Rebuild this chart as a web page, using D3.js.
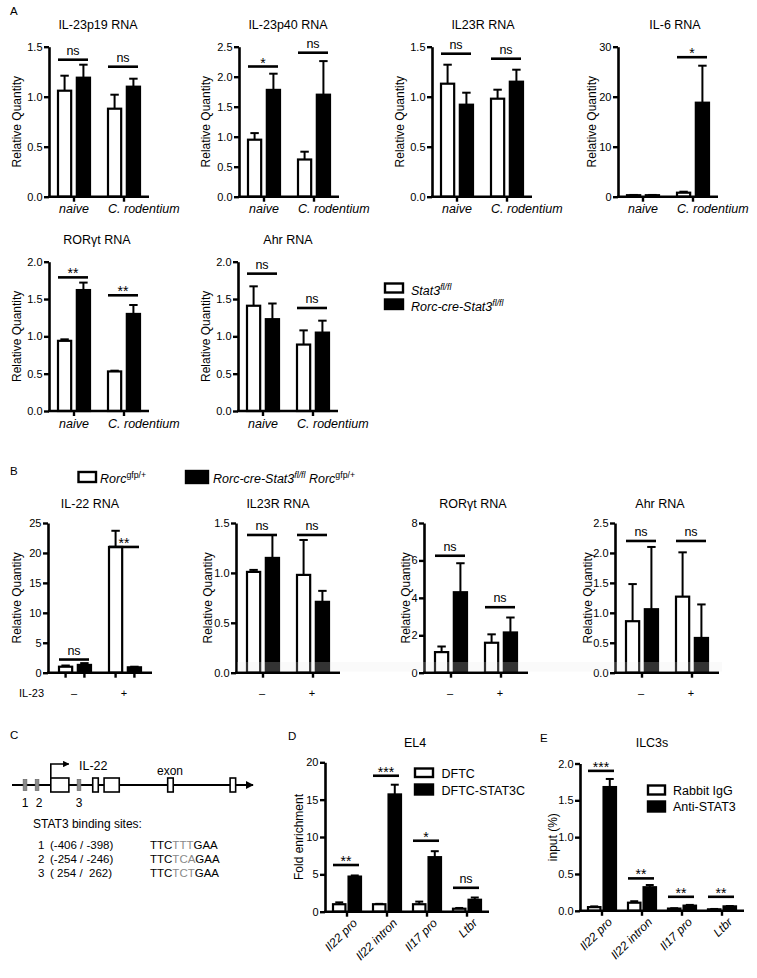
<!DOCTYPE html>
<html><head><meta charset="utf-8">
<script src="https://cdn.jsdelivr.net/npm/d3@7/dist/d3.min.js"></script>
<style>
html,body{margin:0;padding:0;background:#fff;}
svg{display:block;font-family:'Liberation Sans',Arial,Helvetica,sans-serif;}
</style></head><body>
<svg id="fig" width="757" height="978"></svg>
<script>
// ================= DATA =================
const groupsA = ["naive", "C. rodentium"];
const seriesA = ["Stat3 fl/fl", "Rorc-cre-Stat3 fl/fl"];
const groupsB = ["\u2013", "+"];
const seriesB = ["Rorc gfp/+", "Rorc-cre-Stat3 fl/fl Rorc gfp/+"];
const groupsChip = ["Il22 pro", "Il22 intron", "Il17 pro", "Ltbr"];
const seriesD = ["DFTC", "DFTC-STAT3C"];
const seriesE = ["Rabbit IgG", "Anti-STAT3"];

// order of values: group1-series1, group1-series2, group2-series1, group2-series2 ...
// Panel A
const p19Mean = [1.06, 1.19, 0.88, 1.10];
const p19Top  = [1.21, 1.32, 1.02, 1.18];
const p19Sig  = [["ns", 1.37], ["ns", 1.30]];

const p40Mean = [0.95, 1.78, 0.62, 1.70];
const p40Top  = [1.06, 2.05, 0.75, 2.26];
const p40Sig  = [["*", 2.17], ["ns", 2.40]];

const il23rAMean = [1.13, 0.92, 0.98, 1.15];
const il23rATop  = [1.32, 1.04, 1.07, 1.27];
const il23rASig  = [["ns", 1.43], ["ns", 1.38]];

const il6Mean = [0.3, 0.3, 0.8, 18.8];
const il6Top  = [0.35, 0.35, 1.0, 26.2];
const il6Sig  = [null, ["*", 27.9]];

const rorgtAMean = [0.94, 1.62, 0.53, 1.30];
const rorgtATop  = [0.96, 1.72, 0.54, 1.42];
const rorgtASig  = [["**", 1.79], ["**", 1.55]];

const ahrAMean = [1.41, 1.23, 0.89, 1.05];
const ahrATop  = [1.67, 1.44, 1.08, 1.21];
const ahrASig  = [["ns", 1.84], ["ns", 1.38]];

// Panel B
const il22BMean = [1.0, 1.3, 21.0, 0.9];
const il22BTop  = [1.2, 1.6, 23.7, 1.0];
const il22BSig  = [["ns", 2.2], ["**", 21.0]];

const il23rBMean = [1.01, 1.15, 0.98, 0.71];
const il23rBTop  = [1.03, 1.38, 1.33, 0.82];
const il23rBSig  = [["ns", 1.38], ["ns", 1.38]];

const rorgtBMean = [1.1, 4.3, 1.6, 2.15];
const rorgtBTop  = [1.4, 5.85, 2.05, 2.95];
const rorgtBSig  = [["ns", 6.25], ["ns", 3.5]];

const ahrBMean = [0.86, 1.06, 1.27, 0.58];
const ahrBTop  = [1.48, 2.10, 2.01, 1.14];
const ahrBSig  = [["ns", 2.2], ["ns", 2.2]];

// Panel D (EL4 ChIP)
const el4Mean = [1.0, 4.7, 1.0, 15.7, 1.0, 7.3, 0.4, 1.6];
const el4Top  = [1.25, 4.85, 1.05, 17.0, 1.35, 8.1, 0.5, 1.9];
const el4Sig  = [["**", 6.25], ["***", 18.2], ["*", 9.5], ["ns", 3.2]];

// Panel E (ILC3s ChIP)
const ilc3Mean = [0.05, 1.68, 0.11, 0.32, 0.03, 0.07, 0.02, 0.06];
const ilc3Top  = [0.06, 1.79, 0.13, 0.35, 0.035, 0.08, 0.025, 0.065];
const ilc3Sig  = [["***", 1.9], ["**", 0.44], ["**", 0.19], ["**", 0.19]];

// tick values
const ticks15 = [0, 0.5, 1.0, 1.5];
const ticks20 = [0, 0.5, 1.0, 1.5, 2.0];
const ticks25 = [0, 0.5, 1.0, 1.5, 2.0, 2.5];
const ticksIl6 = [0, 10, 20, 30];
const ticksIl22 = [0, 5, 10, 15, 20, 25];
const ticksRorgtB = [0, 2, 4, 6, 8];
const ticksEl4 = [0, 5, 10, 15, 20];

// Panel C schematic (gene coordinates in schematic units 0..1000)
const exonUnits = [[161, 236], [335, 358], [382, 445], [646, 669], [905, 928]];
const siteUnits = [54, 104, 278];
const siteNames = ["1", "2", "3"];
const siteRanges = ["(-406 / -398)", "(-254 / -246)", "( 254 /  262)"];
const siteSeqs = [["TTC", "TTT", "GAA"], ["TTC", "TCA", "GAA"], ["TTC", "TCT", "GAA"]];

// ================= DRAWING =================
const svg = d3.select("#fig");
const f1 = d3.format(".1f");
const f0 = d3.format("d");

function addText(x, y, txt, opt) {
  opt = opt || {};
  return svg.append("text").attr("x", x).attr("y", y).text(txt)
    .attr("font-size", opt.size || 12).attr("text-anchor", opt.anchor || "start")
    .attr("font-style", opt.italic ? "italic" : null).attr("fill", opt.fill || "#000");
}

function drawBarChart(c) {
  const ns = c.series.length;
  const y = d3.scaleLinear().domain([0, c.yMax]).range([c.yZero, c.yTop]);
  const x0 = d3.scaleBand().domain(c.groups).range([c.ax, c.axEnd]).paddingInner(c.pi).paddingOuter(c.po);
  const x1 = d3.scaleBand().domain(c.series).range([0, x0.bandwidth()]).paddingInner(c.bpi);
  const bw = x1.bandwidth();
  const rows = c.mean.map((v, i) => ({grp: c.groups[Math.floor(i / ns)], ser: c.series[i % ns], k: i % ns, v: v, t: c.top[i]}));
  const cx = d => x0(d.grp) + x1(d.ser) + bw / 2;
  const g = svg.append("g");

  g.selectAll("line.err").data(rows).join("line").attr("class", "err")
    .attr("x1", cx).attr("x2", cx).attr("y1", d => y(d.v)).attr("y2", d => y(d.t))
    .attr("stroke", "#000").attr("stroke-width", 2);
  g.selectAll("line.cap").data(rows).join("line").attr("class", "cap")
    .attr("x1", d => cx(d) - bw * 0.32).attr("x2", d => cx(d) + bw * 0.32)
    .attr("y1", d => y(d.t)).attr("y2", d => y(d.t))
    .attr("stroke", "#000").attr("stroke-width", 2);
  g.selectAll("rect.bar").data(rows).join("rect").attr("class", "bar")
    .attr("x", d => x0(d.grp) + x1(d.ser)).attr("width", bw)
    .attr("y", d => y(d.v)).attr("height", d => Math.max(0.5, c.yZero - y(d.v)))
    .attr("fill", d => d.k ? "#000" : "#fff").attr("stroke", "#000").attr("stroke-width", 2.2);

  // y axis
  const ya = g.append("g").attr("transform", `translate(${c.ax},0)`)
    .call(d3.axisLeft(y).tickValues(c.ticks).tickFormat(c.fmt).tickSize(5).tickSizeOuter(0).tickPadding(1.5));
  ya.attr("font-family", null).attr("font-size", 11);
  ya.select(".domain").attr("stroke-width", 2.6);
  ya.selectAll(".tick line").attr("stroke-width", 2.4);
  ya.selectAll(".tick text").attr("fill", "#000");

  // x axis line
  g.append("line").attr("x1", c.ax - 1).attr("x2", c.axEnd).attr("y1", c.yZero).attr("y2", c.yZero)
    .attr("stroke", "#000").attr("stroke-width", 2.6);
  // x ticks
  const tickXs = c.tickPerBar ? rows.map(cx) : c.groups.map(gr => x0(gr) + x0.bandwidth() / 2);
  g.selectAll("line.xt").data(tickXs).join("line").attr("class", "xt")
    .attr("x1", d => d).attr("x2", d => d).attr("y1", c.yZero).attr("y2", c.yZero + 5)
    .attr("stroke", "#000").attr("stroke-width", 2.4);

  // x labels
  if (c.xlab === "A") {
    c.groups.forEach((gr, i) => {
      const long = gr.length > 8;
      addText(long ? x0(gr) : x0(gr) + x0.bandwidth() / 2, c.yZero + 16.5, gr,
        {size: 12.5, italic: true, anchor: long ? "start" : "middle"});
    });
  } else if (c.xlab === "B") {
    c.groups.forEach(gr => addText(x0(gr) + x0.bandwidth() / 2 - 1, c.yZero + 24.5, gr, {size: 11, anchor: "middle"}));
  } else if (c.xlab === "rot") {
    c.groups.forEach(gr => {
      const xx = x0(gr) + x0.bandwidth() / 2 + 11, yy = c.yZero + 12;
      svg.append("text").attr("transform", `translate(${xx},${yy}) rotate(-45)`)
        .attr("text-anchor", "end").attr("font-size", 12).attr("font-style", "italic").text(gr);
    });
  }

  // significance
  c.sig.forEach((s, i) => {
    if (!s) return;
    const gr = c.groups[i];
    const xs = x0(gr), xe = x0(gr) + x0.bandwidth();
    const yy = y(s[1]);
    g.append("line").attr("x1", xs).attr("x2", xe - 2).attr("y1", yy).attr("y2", yy)
      .attr("stroke", "#000").attr("stroke-width", 2.6);
    const star = s[0].indexOf("*") >= 0;
    addText((xs + xe - 2) / 2, star ? yy + 1 : yy - 5, s[0], {size: star ? 14 : 12.5, anchor: "middle"});
  });

  // title
  if (c.title) addText(c.titleX, c.titleY, c.title, {size: 12.5, anchor: "middle"});
  // y label
  svg.append("text").attr("transform", `translate(${c.ylabX},${(c.yTop + c.yZero) / 2}) rotate(-90)`)
    .attr("text-anchor", "middle").attr("dy", "0.35em").attr("font-size", 12).text(c.ylab);
  return {x0, x1, y};
}

const A = {groups: groupsA, series: seriesA, pi: 0.36, po: 0.18, bpi: 0.3, xlab: "A", ylab: "Relative Quantity"};
const row1 = {yTop: 46.7, yZero: 196.7, titleY: 29.3};
const row2 = {yTop: 261.7, yZero: 411, titleY: 244};
function chartA(row, ax, extra) {
  return Object.assign({}, A, row, {ax: ax, axEnd: ax + 100}, extra);
}
drawBarChart(chartA(row1, 49, {mean: p19Mean, top: p19Top, sig: p19Sig, yMax: 1.5, ticks: ticks15, fmt: f1, title: "IL-23p19 RNA", titleX: 98, ylabX: 17}));
drawBarChart(chartA(row1, 239, {mean: p40Mean, top: p40Top, sig: p40Sig, yMax: 2.5, ticks: ticks25, fmt: f1, title: "IL-23p40 RNA", titleX: 288, ylabX: 206}));
drawBarChart(chartA(row1, 432, {mean: il23rAMean, top: il23rATop, sig: il23rASig, yMax: 1.5, ticks: ticks15, fmt: f1, title: "IL23R RNA", titleX: 483, ylabX: 400}));
drawBarChart(chartA(row1, 618, {mean: il6Mean, top: il6Top, sig: il6Sig, yMax: 30, ticks: ticksIl6, fmt: f0, title: "IL-6 RNA", titleX: 675, ylabX: 592}));
drawBarChart(chartA(row2, 49, {mean: rorgtAMean, top: rorgtATop, sig: rorgtASig, yMax: 2.0, ticks: ticks20, fmt: f1, title: "ROR\u03b3t RNA", titleX: 97, ylabX: 17}));
drawBarChart(chartA(row2, 238, {mean: ahrAMean, top: ahrATop, sig: ahrASig, yMax: 2.0, ticks: ticks20, fmt: f1, title: "Ahr RNA", titleX: 288, ylabX: 206}));

// Panel B
const B = {groups: groupsB, series: seriesB, pi: 0.36, po: 0.22, bpi: 0.3, xlab: "B", ylab: "Relative Quantity", yTop: 523, yZero: 672.7, titleY: 507.5};
function chartB(ax, extra) { return Object.assign({}, B, {ax: ax, axEnd: ax + 104}, extra); }
drawBarChart(chartB(48, {mean: il22BMean, top: il22BTop, sig: il22BSig, yMax: 25, ticks: ticksIl22, fmt: f0, title: "IL-22 RNA", titleX: 90, ylabX: 17, tickPerBar: true}));
drawBarChart(chartB(236, {mean: il23rBMean, top: il23rBTop, sig: il23rBSig, yMax: 1.5, ticks: ticks15, fmt: f1, title: "IL23R RNA", titleX: 278, ylabX: 208}));
drawBarChart(chartB(424, {mean: rorgtBMean, top: rorgtBTop, sig: rorgtBSig, yMax: 8, ticks: ticksRorgtB, fmt: f0, title: "ROR\u03b3t RNA", titleX: 473, ylabX: 406}));
drawBarChart(chartB(615, {mean: ahrBMean, top: ahrBTop, sig: ahrBSig, yMax: 2.5, ticks: ticks25, fmt: f1, title: "Ahr RNA", titleX: 660, ylabX: 588}));
// faint scan band at bottom of panel B plots (lightens the black bars slightly)
svg.append("rect").attr("x", 237).attr("y", 662).attr("width", 485).attr("height", 9.5)
  .attr("fill", "#e8e8e8").attr("opacity", 0.22);
addText(19, 697.2, "IL-23", {size: 11});

// Panel D and E
const C4 = {groups: groupsChip, pi: 0.3, po: 0.2, bpi: 0.2, xlab: "rot"};
drawBarChart(Object.assign({}, C4, {series: seriesD, ax: 325, axEnd: 489, yTop: 762.3, yZero: 911.7, mean: el4Mean, top: el4Top, sig: el4Sig,
  yMax: 20, ticks: ticksEl4, fmt: f0, title: "EL4", titleX: 415, titleY: 746.5, ylab: "Fold enrichment", ylabX: 299}));
drawBarChart(Object.assign({}, C4, {series: seriesE, ax: 580, axEnd: 744, yTop: 763.5, yZero: 910.8, mean: ilc3Mean, top: ilc3Top, sig: ilc3Sig,
  yMax: 2, ticks: ticks20, fmt: f1, title: "ILC3s", titleX: 652, titleY: 746.5, ylab: "input (%)", ylabX: 553}));

// ---------- legends ----------
function legBox(x, y, w, h, black) {
  svg.append("rect").attr("x", x).attr("y", y).attr("width", w).attr("height", h)
    .attr("fill", black ? "#000" : "#fff").attr("stroke", "#000").attr("stroke-width", 2.4);
}
function richText(x, y, parts, size) {
  const t = svg.append("text").attr("x", x).attr("y", y).attr("font-size", size);
  parts.forEach(p => {
    const ts = t.append("tspan").text(p.t);
    if (p.i) ts.attr("font-style", "italic");
    if (p.sup) ts.attr("font-size", size * 0.7).attr("dy", -5);
    if (p.down) ts.attr("dy", 5);
  });
  return t;
}
// Legend A
legBox(385, 283.5, 18, 9, false);
richText(411, 295, [{t: "Stat3", i: true}, {t: "fl/fl", i: true, sup: true}], 12.5);
legBox(385, 299.5, 18, 9.5, true);
richText(411, 311, [{t: "Rorc-cre-Stat3", i: true}, {t: "fl/fl", i: true, sup: true}], 12.5);
// Legend B
legBox(78.5, 472, 17.5, 10, false);
richText(100, 482.5, [{t: "Rorc", i: true}, {t: "gfp/+", sup: true}], 12.5);
legBox(186, 471, 22, 12, true);
richText(213, 482.5, [{t: "Rorc-cre-Stat3", i: true}, {t: "fl/fl", i: true, sup: true}, {t: " Rorc", i: true, down: true}, {t: "gfp/+", sup: true}], 12.5);
// Legend D
legBox(415, 768.5, 18, 8.5, false);
addText(441.5, 777.5, seriesD[0], {size: 12.5});
legBox(415, 784.5, 18, 10, true);
addText(441.5, 794.5, seriesD[1], {size: 12.5});
// Legend E
legBox(648, 785.5, 17, 9, false);
addText(673, 794.5, seriesE[0], {size: 12.5});
legBox(648, 801.5, 17, 10, true);
addText(673, 811, seriesE[1], {size: 12.5});

// ---------- panel letters ----------
addText(10, 15, "A", {size: 11.5});
addText(10, 475, "B", {size: 11.5});
addText(10, 738.5, "C", {size: 11.5});
addText(288, 740, "D", {size: 11.5});
addText(540, 741.7, "E", {size: 11.5});

// ---------- Panel C schematic ----------
const gx = d3.scaleLinear().domain([0, 1000]).range([12, 253]);
const lineY = 785;
svg.append("defs").append("marker").attr("id", "ah").attr("viewBox", "0 0 10 10").attr("refX", 9).attr("refY", 5)
  .attr("markerWidth", 4).attr("markerHeight", 4).attr("orient", "auto")
  .append("path").attr("d", "M0,0L10,5L0,10Z").attr("fill", "#000");
svg.append("line").attr("x1", gx(0)).attr("x2", gx(1000)).attr("y1", lineY).attr("y2", lineY)
  .attr("stroke", "#000").attr("stroke-width", 2).attr("marker-end", "url(#ah)");
svg.selectAll("rect.site").data(siteUnits).join("rect").attr("class", "site")
  .attr("x", d => gx(d) - 1.8).attr("width", 3.6).attr("y", lineY - 5.5).attr("height", 11)
  .attr("fill", "#8c8c8c").attr("stroke", "#6f6f6f").attr("stroke-width", 0.8);
svg.selectAll("rect.exon").data(exonUnits).join("rect").attr("class", "exon")
  .attr("x", d => gx(d[0])).attr("width", d => gx(d[1]) - gx(d[0])).attr("y", lineY - 7).attr("height", 14)
  .attr("fill", "#fff").attr("stroke", "#000").attr("stroke-width", 1.6);
// transcription start arrow
const tss = gx(exonUnits[0][0]);
svg.append("path").attr("d", `M${tss},${lineY - 7}V764H${tss + 18}`).attr("fill", "none")
  .attr("stroke", "#000").attr("stroke-width", 1.6).attr("marker-end", "url(#ah)");
addText(79, 770, "IL-22", {size: 12.5});
addText(157, 775, "exon", {size: 12});
siteUnits.forEach((u, i) => addText(gx(u) + (i === 1 ? 2 : 0), 807, siteNames[i], {size: 12, anchor: "middle"}));
addText(33, 828, "STAT3 binding sites:", {size: 12});
siteNames.forEach((n, i) => {
  const yy = 849 + i * 14;
  addText(38, yy, n, {size: 11.5});
  addText(50, yy, siteRanges[i], {size: 11.5}).style("white-space", "pre");
  const t = svg.append("text").attr("x", 150).attr("y", yy).attr("font-size", 11.5);
  siteSeqs[i].forEach((s, j) => t.append("tspan").text(s).attr("fill", j === 1 ? "#8a8a8a" : "#000"));
});
</script>
</body></html>
